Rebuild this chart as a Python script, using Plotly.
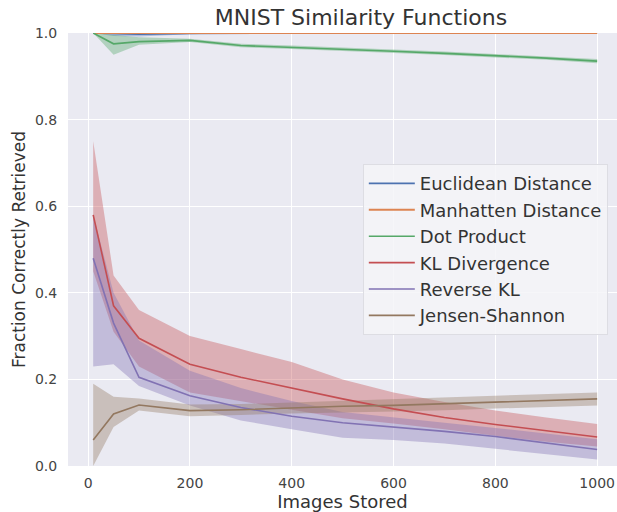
import plotly.graph_objects as go

images = [10, 50, 100, 200, 300, 400, 500, 600, 700, 800, 900, 1000]

euc_mean = [1.0, 0.998, 0.997, 0.999, 1.0, 1.0, 1.0, 1.0, 1.0, 1.0, 1.0, 1.0]
euc_lo   = [1.0, 0.993, 0.992, 0.997, 1.0, 1.0, 1.0, 1.0, 1.0, 1.0, 1.0, 1.0]
euc_hi   = [1.0, 1.0, 1.0, 1.0, 1.0, 1.0, 1.0, 1.0, 1.0, 1.0, 1.0, 1.0]

man_mean = [1.0] * 12
man_lo   = [1.0] * 12
man_hi   = [1.0] * 12

dot_mean = [1.0, 0.975, 0.980, 0.983, 0.971, 0.967, 0.963, 0.958, 0.953, 0.948, 0.942, 0.935]
dot_lo   = [1.0, 0.950, 0.973, 0.979, 0.967, 0.963, 0.959, 0.954, 0.949, 0.944, 0.938, 0.930]
dot_hi   = [1.0, 0.995, 0.990, 0.987, 0.975, 0.971, 0.967, 0.962, 0.957, 0.952, 0.946, 0.940]

kl_mean = [0.58, 0.37, 0.295, 0.235, 0.205, 0.180, 0.155, 0.132, 0.112, 0.096, 0.081, 0.067]
kl_lo   = [0.45, 0.31, 0.230, 0.170, 0.150, 0.130, 0.110, 0.098, 0.085, 0.070, 0.056, 0.045]
kl_hi   = [0.75, 0.44, 0.360, 0.300, 0.270, 0.240, 0.200, 0.170, 0.148, 0.128, 0.112, 0.097]

rkl_mean = [0.48, 0.33, 0.205, 0.162, 0.135, 0.115, 0.100, 0.090, 0.080, 0.068, 0.053, 0.038]
rkl_lo   = [0.23, 0.235, 0.185, 0.140, 0.105, 0.085, 0.065, 0.060, 0.052, 0.040, 0.027, 0.015]
rkl_hi   = [0.58, 0.40, 0.290, 0.220, 0.180, 0.150, 0.125, 0.112, 0.100, 0.088, 0.075, 0.062]

js_mean = [0.06, 0.12, 0.141, 0.128, 0.130, 0.134, 0.138, 0.140, 0.144, 0.148, 0.151, 0.155]
js_lo   = [0.00, 0.09, 0.128, 0.115, 0.118, 0.121, 0.124, 0.126, 0.129, 0.132, 0.136, 0.140]
js_hi   = [0.19, 0.16, 0.156, 0.142, 0.143, 0.147, 0.151, 0.154, 0.158, 0.162, 0.166, 0.170]

names = ["Euclidean Distance", "Manhatten Distance", "Dot Product",
         "KL Divergence", "Reverse KL", "Jensen-Shannon"]
colors = ["#4C72B0", "#DD8452", "#55A868", "#C44E52", "#8172B3", "#937860"]
series = [
    (euc_mean, euc_lo, euc_hi),
    (man_mean, man_lo, man_hi),
    (dot_mean, dot_lo, dot_hi),
    (kl_mean, kl_lo, kl_hi),
    (rkl_mean, rkl_lo, rkl_hi),
    (js_mean, js_lo, js_hi),
]


def rgba(hexc, a):
    h = hexc.lstrip("#")
    r, g, b = int(h[0:2], 16), int(h[2:4], 16), int(h[4:6], 16)
    return f"rgba({r},{g},{b},{a})"


fig = go.Figure()
for name, col, (m, lo, hi) in zip(names, colors, series):
    fig.add_trace(go.Scatter(
        x=images + images[::-1], y=hi + lo[::-1], fill="toself",
        fillcolor=rgba(col, 0.38), line=dict(width=0), mode="lines",
        showlegend=False, hoverinfo="skip"))
for name, col, (m, lo, hi) in zip(names, colors, series):
    fig.add_trace(go.Scatter(
        x=images, y=m, mode="lines", name=name,
        line=dict(color=col, width=2.0 if name == "Manhatten Distance" else 1.6)))

fig.update_layout(
    width=617, height=512,
    margin=dict(l=68, r=0, t=33, b=46),
    paper_bgcolor="white", plot_bgcolor="#EAEAF2",
    font=dict(family="DejaVu Sans", color="#444444", size=14),
    title=dict(text="MNIST Similarity Functions", x=0.585, xanchor="center",
               y=0.966, yanchor="middle", font=dict(size=22, color="#333333")),
    legend=dict(x=0.537, y=0.697, xanchor="left", yanchor="top",
                bgcolor="rgba(245,245,248,0.85)", bordercolor="#DDDDE3",
                borderwidth=1, font=dict(size=18, color="#333333"),
                tracegroupgap=0, itemwidth=46),
)
fig.update_xaxes(range=[-39.5, 1039], tickvals=[0, 200, 400, 600, 800, 1000],
                 showgrid=True, gridcolor="white", gridwidth=1, zeroline=False,
                 showline=False, ticks="outside", ticklen=4, tickcolor="rgba(0,0,0,0)",
                 title=dict(text="Images Stored", font=dict(size=18, color="#333333"),
                            standoff=2),
                 tickfont=dict(size=14))
fig.update_yaxes(range=[0, 1], tickvals=[0, 0.2, 0.4, 0.6, 0.8, 1.0], tickformat=".1f",
                 showgrid=True, gridcolor="white", gridwidth=1, zeroline=False,
                 showline=False, ticks="outside", ticklen=7, tickcolor="rgba(0,0,0,0)",
                 title=dict(text="Fraction Correctly Retrieved",
                            font=dict(size=17, color="#333333"), standoff=4),
                 tickfont=dict(size=14))

fig.write_html("out.html")
